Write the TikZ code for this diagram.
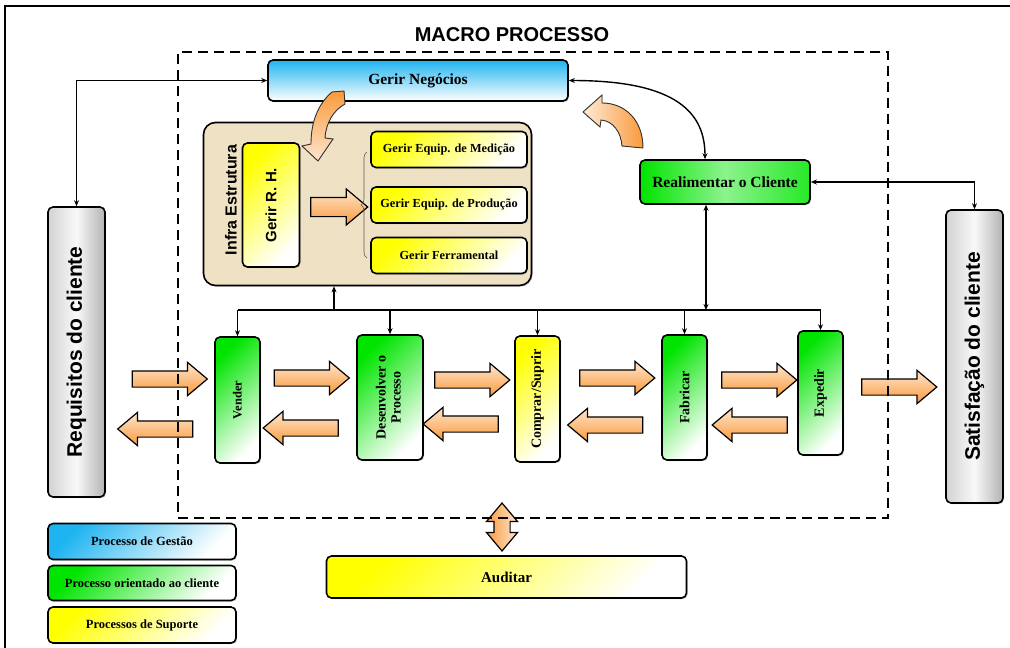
\documentclass[tikz,border=0pt]{standalone}
\usepackage{fontspec}
\usepackage{graphicx}
\setmainfont{Liberation Serif}
\setsansfont{Liberation Sans}
\usepackage{tikz}
\usetikzlibrary{positioning, shapes.arrows, arrows.meta, calc, decorations.pathreplacing, shadows}
\definecolor{gestao}{HTML}{1EB4F0}
\definecolor{cliente}{HTML}{00E400}
\definecolor{suporte}{HTML}{FFFF00}
\definecolor{infra}{HTML}{EFE2C4}
\definecolor{seta}{HTML}{FA9A3C}

\begin{document}
\begin{tikzpicture}[x=1pt, y=-1pt,
  every node/.style={font=\bfseries},
  box/.style={draw, rounded corners=5pt, line width=1.6pt, inner sep=2pt, align=center,
              drop shadow={shadow xshift=1.2pt, shadow yshift=-1.2pt, opacity=.4}},
  gest/.style={box, top color=gestao, bottom color=white},
  cli/.style={box, top color=cliente, bottom color=white, shading angle=45},
  sup/.style={box, top color=suporte, bottom color=white, shading angle=45},
  ext/.style={box, left color=gray!35, right color=gray!60, middle color=gray!5},
  proc/.style={minimum width=45pt, minimum height=126pt, font=\fontsize{14}{15}\selectfont\bfseries},
  sub/.style={sup, minimum width=156pt, minimum height=36pt, font=\fontsize{12.3}{14}\selectfont\bfseries},
  leg/.style={minimum width=188pt, minimum height=36pt, font=\fontsize{12.5}{14}\selectfont\bfseries},
  fwd/.style={single arrow, draw, line width=1.2pt, minimum height=75pt, minimum width=32pt,
              single arrow head extend=8.5pt, single arrow tip angle=80, inner xsep=0pt, inner ysep=7.5pt,
              top color=seta!25, bottom color=seta},
  bwd/.style={fwd, shape border rotate=180},
  curva/.style={draw=black!80, line width=.9pt},
  conn/.style={line width=1.4pt, -{Stealth[length=6pt,width=5pt]}},
  conn2/.style={line width=1.4pt, {Stealth[length=6pt,width=5pt]}-{Stealth[length=6pt,width=5pt]}}]

\useasboundingbox (0,0) rectangle (1010,648);
\draw[line width=1.6pt] (5,648) -- (5,6) -- (1010,6);

\node[font=\fontsize{20}{22}\selectfont\sffamily\bfseries] (titulo) at (512,35) {MACRO PROCESSO};

% gestao e cliente
\node[gest, minimum width=300pt, minimum height=41pt, font=\fontsize{15.5}{17}\selectfont\bfseries]
  (negocios) at (418,80.5) {Gerir Negócios};
\node[box, left color=cliente, right color=cliente!85, middle color=white!55!cliente,
      minimum width=170pt, minimum height=44pt, font=\fontsize{15.5}{17}\selectfont\bfseries]
  (realim) at (725,182) {Realimentar o Cliente};
\node[ext, minimum width=57pt, minimum height=290pt, font=\fontsize{21}{23}\selectfont\sffamily\bfseries]
  (requisitos) at (76.5,352) {\rotatebox{90}{Requisitos do cliente}};
\node[ext, minimum width=57pt, minimum height=293pt, font=\fontsize{21}{23}\selectfont\sffamily\bfseries]
  (satisf) at (974.5,356.5) {\rotatebox{90}{Satisfação do cliente}};

% infra estrutura
\node[box, rounded corners=12pt, fill=infra, minimum width=328pt, minimum height=163pt] (infra) at (367.5,204) {};
\node[font=\fontsize{16}{18}\selectfont\sffamily\bfseries] (infralbl) at (231,200) {\rotatebox{90}{Infra Estrutura}};
\node[sup, minimum width=57pt, minimum height=124pt, font=\fontsize{15}{17}\selectfont\sffamily\bfseries]
  (rh) at (271,205) {\rotatebox{90}{Gerir R. H.}};
\node[fwd, minimum height=57pt, minimum width=35pt, inner ysep=9pt] (rhseta) at (333.5,207) {};
\draw[decorate, decoration={brace, amplitude=6pt}, gray!70!black, line width=.6pt] (367,258) -- (367,152);
\node[sub] (medicao)  at (449,149.5) {Gerir Equip. de Medição};
\node[sub] (producao) at (449,205)   {Gerir Equip. de Produção};
\node[sub] (ferram)   at (449,255.5) {Gerir Ferramental};

% cadeia de processos
\node[cli, proc, font=\fontsize{12.5}{14}\selectfont\bfseries] (vender) at (237.5,400) {\rotatebox{90}{Vender}};
\node[cli, proc, minimum width=66pt, minimum height=125pt] (desenv) at (390,397.5)
  {\rotatebox{90}{\begin{tabular}{@{}c@{}}Desenvolver o\\Processo\end{tabular}}};
\node[sup, proc] (comprar)  at (537.5,399) {\rotatebox{90}{Comprar/Suprir}};
\node[cli, proc, minimum height=125pt] (fabricar) at (684.5,397.5) {\rotatebox{90}{Fabricar}};
\node[cli, proc, minimum height=124pt] (expedir)  at (820.5,393) {\rotatebox{90}{Expedir}};

\foreach \x/\y [count=\i] in {165/379, 307/378, 467.5/380, 612.5/378, 754.5/380, 894.5/387}
  \node[fwd] (frente\i) at (\x,\y) {};
\foreach \x/\y [count=\i] in {160/429, 305.5/428, 465.5/424, 610/425, 754.5/425}
  \node[bwd] (volta\i) at (\x,\y) {};

% auditoria e legenda
\node[sup, minimum width=360pt, minimum height=42pt, font=\fontsize{15}{17}\selectfont\bfseries]
  (auditar) at (506.5,577) {Auditar};
\node[double arrow, draw, line width=1.2pt, shape border rotate=90, minimum height=48pt, minimum width=30pt,
      double arrow head extend=7.5pt, double arrow tip angle=80, inner sep=7.5pt,
      left color=seta, right color=seta!25] (audseta) at (502,527) {};
\node[gest, leg, shading angle=45] (leggest) at (142,541.5) {Processo de Gestão};
\node[cli, leg, minimum height=35pt] (legcli) at (142,583) {Processo orientado ao cliente};
\node[sup, leg] (legsup) at (142,625) {Processos de Suporte};

% ligacoes
\coordinate (busy) at (0,310);
\coordinate (infrax) at (334,0);
\coordinate (realx) at (706,0);
\draw[conn2] (negocios.west) -| (requisitos.north);
\draw[conn2] (negocios.east) .. controls +(110,0) and +(0,-45) .. ([xshift=-20pt]realim.north);
\draw[conn2] (realim.east) -| (satisf.north);
\draw[conn2] (realx |- realim.south) -- (realx |- busy);
\draw[line width=1.4pt] (vender.north |- busy) -- (expedir.north |- busy);
\foreach \p in {vender,desenv,comprar,fabricar,expedir}
  \draw[conn] (\p.north |- busy) -- (\p.north);
\draw[conn] (infrax |- busy) -- (infrax |- infra.south);

% setas curvas
\filldraw[curva, top color=seta, bottom color=seta!25]
  (332,92) .. controls (318,104) and (311,122) .. (311,144) -- (302,146) -- (318,161) -- (333,139)
  -- (325,138) .. controls (326,122) and (334,110) .. (345,104) -- (344,91) -- cycle;
\filldraw[curva, left color=seta!20, right color=seta]
  (583,112) -- (602,95) -- (602,103) .. controls (625,103) and (643,120) .. (643,148)
  -- (622,146) .. controls (621,132) and (613,121) .. (601,120) -- (600,127) -- cycle;

\node[draw, line width=2pt, dash pattern=on 10pt off 6pt, minimum width=710pt, minimum height=466pt,
      inner sep=0pt] (macro) at (533,285) {};
\end{tikzpicture}
\end{document}
